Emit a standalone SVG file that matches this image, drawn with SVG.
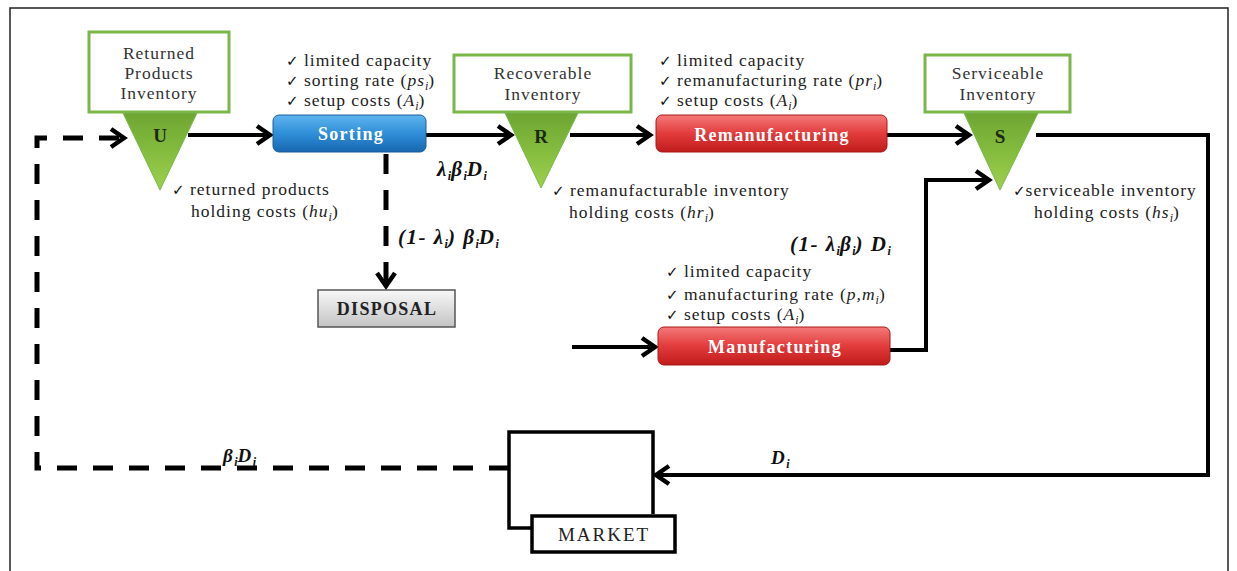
<svg xmlns="http://www.w3.org/2000/svg" width="1237" height="571" viewBox="0 0 1237 571">
<defs>
<style>
.t{font-family:"Liberation Serif","Times New Roman",serif;font-size:17.5px;letter-spacing:1px;fill:#222}
.h{font-family:"Liberation Serif","Times New Roman",serif;font-size:17.5px;letter-spacing:1px;fill:#333;text-anchor:middle}
.ck{font-family:"DejaVu Sans",sans-serif;font-size:15px;letter-spacing:0;fill:#111}
.lbl{font-family:"Liberation Serif","Times New Roman",serif;font-size:21px;letter-spacing:1.5px;font-weight:bold;font-style:italic;fill:#111}
.lb2{font-family:"Liberation Serif","Times New Roman",serif;font-size:19px;letter-spacing:1.5px;font-weight:bold;font-style:italic;fill:#111}
.bx{font-family:"Liberation Serif","Times New Roman",serif;font-size:18px;letter-spacing:1.3px;font-weight:bold;fill:#fff;text-anchor:middle}
.sub{font-size:12px;letter-spacing:0}
.inv{fill:#fff;stroke:#7ab648;stroke-width:3}
.tri{fill:url(#gG);stroke:#7ab648;stroke-width:1}
.tl{font-family:"Liberation Serif","Times New Roman",serif;font-size:19px;font-weight:bold;fill:#1c2a10;text-anchor:middle}
.ln{fill:none;stroke:#000;stroke-width:4}
.ds{fill:none;stroke:#000;stroke-width:5;stroke-dasharray:20 16}
</style>
<linearGradient id="gB" x1="0" y1="0" x2="0" y2="1"><stop offset="0" stop-color="#5fb4ee"/><stop offset="0.5" stop-color="#2f8fd8"/><stop offset="1" stop-color="#1766b0"/></linearGradient>
<linearGradient id="gR" x1="0" y1="0" x2="0" y2="1"><stop offset="0" stop-color="#f47a7a"/><stop offset="0.5" stop-color="#e23b3b"/><stop offset="1" stop-color="#c01c1c"/></linearGradient>
<linearGradient id="gD" x1="0" y1="0" x2="0" y2="1"><stop offset="0" stop-color="#f8f8f8"/><stop offset="1" stop-color="#c4c4c4"/></linearGradient>
<linearGradient id="gG" x1="0" y1="0" x2="0" y2="1"><stop offset="0" stop-color="#6ea532"/><stop offset="0.5" stop-color="#84bc3e"/><stop offset="1" stop-color="#9fd04f"/></linearGradient>
<marker id="ah" viewBox="-18 -12 20 24" markerWidth="20" markerHeight="24" refX="0" refY="0" orient="auto" markerUnits="userSpaceOnUse" overflow="visible">
<path d="M-13,-9 L0,0 L-13,9" fill="none" stroke="#000" stroke-width="4.5" stroke-linejoin="miter"/>
</marker>
</defs>
<rect x="0" y="0" width="1237" height="571" fill="#fff"/>
<rect x="10" y="8" width="1218" height="575" fill="none" stroke="#222" stroke-width="1.5"/>

<g id="connectors">
<path class="ds" d="M509,468 H37 V138 H124" marker-end="url(#ah)"/>
<path class="ln" d="M188,135 H270" marker-end="url(#ah)"/>
<path class="ln" d="M426,135 H511" marker-end="url(#ah)"/>
<path class="ln" d="M570,135 H650" marker-end="url(#ah)"/>
<path class="ln" d="M887,135 H969" marker-end="url(#ah)"/>
<path class="ln" d="M1036,135 H1208 V475 H656" marker-end="url(#ah)"/>
<path class="ln" d="M890,350 H926 V180 H989" marker-end="url(#ah)"/>
<path class="ln" d="M572,347 H655" marker-end="url(#ah)"/>
<path class="ds" d="M386,154 V286" marker-end="url(#ah)"/>
</g>

<g id="U">
<rect class="inv" x="89" y="32" width="140" height="80"/>
<text class="h" x="159" y="59">Returned</text>
<text class="h" x="159" y="79">Products</text>
<text class="h" x="159" y="99">Inventory</text>
<polygon class="tri" points="123,113 197,113 160,190"/>
<text class="tl" x="160" y="142">U</text>
<text class="t" x="172" y="195"><tspan class="ck">✓</tspan> returned products</text>
<text class="t" x="191" y="217">holding costs (<tspan font-style="italic">hu</tspan><tspan class="sub" font-style="italic" dy="4">i</tspan><tspan dy="-4">)</tspan></text>
</g>

<g id="sorting">
<text class="t" x="286" y="66"><tspan class="ck">✓</tspan> limited capacity</text>
<text class="t" x="286" y="86"><tspan class="ck">✓</tspan> sorting rate  (<tspan font-style="italic">ps</tspan><tspan class="sub" font-style="italic" dy="4">i</tspan><tspan dy="-4">)</tspan></text>
<text class="t" x="286" y="106"><tspan class="ck">✓</tspan> setup costs (<tspan font-style="italic">A</tspan><tspan class="sub" font-style="italic" dy="4">i</tspan><tspan dy="-4">)</tspan></text>
<rect x="273" y="115" width="153" height="37" rx="6" fill="url(#gB)" stroke="#1a5f9e" stroke-width="1"/>
<text class="bx" x="351" y="140">Sorting</text>
</g>

<g id="R">
<rect class="inv" x="454" y="55" width="177" height="57"/>
<text class="h" x="543" y="79">Recoverable</text>
<text class="h" x="543" y="100">Inventory</text>
<polygon class="tri" points="505,113 578,113 541,188"/>
<text class="tl" x="541" y="143">R</text>
<text class="t" x="552" y="196"><tspan class="ck">✓</tspan> remanufacturable inventory</text>
<text class="t" x="569" y="218">holding costs (<tspan font-style="italic">hr</tspan><tspan class="sub" font-style="italic" dy="4">i</tspan><tspan dy="-4">)</tspan></text>
</g>

<g id="remanufacturing">
<text class="t" x="659" y="66"><tspan class="ck">✓</tspan> limited capacity</text>
<text class="t" x="659" y="86"><tspan class="ck">✓</tspan> remanufacturing rate (<tspan font-style="italic">pr</tspan><tspan class="sub" font-style="italic" dy="4">i</tspan><tspan dy="-4">)</tspan></text>
<text class="t" x="659" y="106"><tspan class="ck">✓</tspan> setup costs (<tspan font-style="italic">A</tspan><tspan class="sub" font-style="italic" dy="4">i</tspan><tspan dy="-4">)</tspan></text>
<rect x="656" y="115" width="231" height="37" rx="6" fill="url(#gR)" stroke="#a81818" stroke-width="1"/>
<text class="bx" x="772" y="141">Remanufacturing</text>
</g>

<g id="S">
<rect class="inv" x="925" y="55" width="145" height="57"/>
<text class="h" x="998" y="79">Serviceable</text>
<text class="h" x="998" y="100">Inventory</text>
<polygon class="tri" points="964,113 1038,113 1000,190"/>
<text class="tl" x="1000" y="143">S</text>
<text class="t" x="1013" y="196"><tspan class="ck">✓</tspan>serviceable inventory</text>
<text class="t" x="1034" y="218">holding costs (<tspan font-style="italic">hs</tspan><tspan class="sub" font-style="italic" dy="4">i</tspan><tspan dy="-4">)</tspan></text>
</g>

<g id="disposal">
<rect x="318" y="290" width="137" height="37" fill="url(#gD)" stroke="#555" stroke-width="1.5"/>
<text class="bx" x="387" y="315" style="fill:#222">DISPOSAL</text>
</g>

<g id="manufacturing">
<text class="t" x="666" y="277"><tspan class="ck">✓</tspan> limited capacity</text>
<text class="t" x="666" y="300"><tspan class="ck">✓</tspan> manufacturing rate (<tspan font-style="italic">p,m</tspan><tspan class="sub" font-style="italic" dy="4">i</tspan><tspan dy="-4">)</tspan></text>
<text class="t" x="666" y="320"><tspan class="ck">✓</tspan> setup costs (<tspan font-style="italic">A</tspan><tspan class="sub" font-style="italic" dy="4">i</tspan><tspan dy="-4">)</tspan></text>
<rect x="658" y="327" width="232" height="38" rx="6" fill="url(#gR)" stroke="#a81818" stroke-width="1"/>
<text class="bx" x="775" y="353">Manufacturing</text>
</g>

<g id="market">
<path d="M653,514 V432 H509 V528 H532" fill="none" stroke="#000" stroke-width="3.5"/>
<rect x="532" y="516" width="143" height="36" fill="#fff" stroke="#000" stroke-width="3.5"/>
<text x="604" y="541" style="font-family:'Liberation Serif',serif;font-size:19px;letter-spacing:2px;fill:#222;text-anchor:middle">MARKET</text>
</g>

<g id="labels">
<text class="lbl" x="437" y="176">λ<tspan class="sub" dy="4">i</tspan><tspan dy="-4">β</tspan><tspan class="sub" dy="4">i</tspan><tspan dy="-4">D</tspan><tspan class="sub" dy="4">i</tspan></text>
<text class="lbl" x="398" y="244">(1- λ<tspan class="sub" dy="4">i</tspan><tspan dy="-4">) β</tspan><tspan class="sub" dy="4">i</tspan><tspan dy="-4">D</tspan><tspan class="sub" dy="4">i</tspan></text>
<text class="lbl" x="790" y="251">(1- λ<tspan class="sub" dy="4">i</tspan><tspan dy="-4">β</tspan><tspan class="sub" dy="4">i</tspan><tspan dy="-4">) D</tspan><tspan class="sub" dy="4">i</tspan></text>
<text class="lb2" x="223" y="462">β<tspan class="sub" dy="4">i</tspan><tspan dy="-4">D</tspan><tspan class="sub" dy="4">i</tspan></text>
<text class="lb2" x="771" y="464">D<tspan class="sub" dy="4">i</tspan></text>
</g>
</svg>
